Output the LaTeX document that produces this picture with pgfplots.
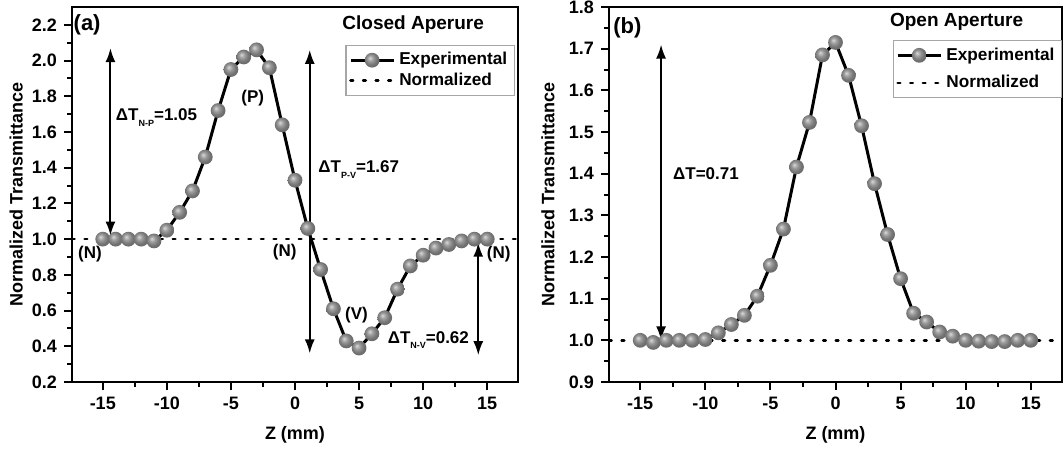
\documentclass[border=0pt]{standalone}
\usepackage{fontspec}
\setmainfont{Liberation Sans}
\usepackage{pgfplots}
\pgfplotsset{compat=1.18}
\usetikzlibrary{arrows.meta}

\newcommand\dT[1]{ΔT\raisebox{-0.6ex}{\fontsize{4.5}{5}\selectfont #1}}

% gray sphere marker
\pgfdeclareradialshading{sph}{\pgfqpoint{-8bp}{8bp}}{%
  color(0bp)=(gray!30); color(10bp)=(gray!78); color(20bp)=(gray!92!black);
  color(25bp)=(gray!85!black); color(50bp)=(gray!80!black)}
\pgfdeclareplotmark{sph}{%
  \pgfpathcircle{\pgfpointorigin}{\pgfplotmarksize}%
  \pgfshadepath{sph}{0}\pgfusepath{}}

% closed aperture (a)
\pgfplotstableread{
z T
-15 1.00
-14 1.00
-13 1.00
-12 1.00
-11 0.99
-10 1.05
-9 1.15
-8 1.27
-7 1.46
-6 1.72
-5 1.95
-4 2.02
-3 2.06
-2 1.96
-1 1.64
0 1.33
1 1.06
2 0.83
3 0.61
4 0.43
5 0.39
6 0.47
7 0.56
8 0.72
9 0.85
10 0.91
11 0.95
12 0.97
13 0.99
14 1.00
15 1.00
}\closedap

% open aperture (b)
\pgfplotstableread{
z T
-15 1.000
-14 0.995
-13 1.000
-12 1.000
-11 1.000
-10 1.002
-9 1.018
-8 1.038
-7 1.060
-6 1.106
-5 1.180
-4 1.267
-3 1.416
-2 1.523
-1 1.685
0 1.715
1 1.636
2 1.515
3 1.376
4 1.254
5 1.148
6 1.065
7 1.044
8 1.020
9 1.010
10 1.000
11 0.998
12 0.997
13 0.997
14 1.000
15 1.000
}\openap

\tikzset{darr/.style={{Latex[length=7pt,width=5pt]}-{Latex[length=7pt,width=5pt]}, line width=1pt}}

\pgfplotsset{
  zscan/.style={
    scale only axis,
    height=187.5pt,
    xmin=-17.4, xmax=17.4,
    xtick={-15,-10,...,15},
    minor x tick num=1, minor y tick num=1,
    tick align=outside, tick pos=left,
    axis line style={line width=1.2pt},
    major tick length=4pt, minor tick length=2.5pt,
    every tick/.style={black, line width=1pt},
    ticklabel style={font=\fontsize{9}{10}\selectfont\bfseries},
    /pgf/number format/assume math mode=true,
    yticklabel style={/pgf/number format/fixed, /pgf/number format/fixed zerofill, /pgf/number format/precision=1},
    xlabel={Z (mm)},
    ylabel={Normalized Transmittance},
    label style={font=\fontsize{9}{10}\selectfont\bfseries},
    xlabel style={at={(axis description cs:0.5,-0.14)}, anchor=center},
    clip=false,
    legend cell align=left,
    legend style={draw=gray!70, line width=0.6pt, font=\fontsize{8.6}{11}\selectfont\bfseries,
      inner sep=1.5pt, anchor=north east},
  },
  expt/.style={black, line width=1.5pt, mark=sph, mark size=3.7pt,
    legend image code/.code={\draw[##1, mark repeat=2, mark phase=2]
      plot coordinates {(0cm,0cm) (0.38cm,0cm) (0.76cm,0cm)};}},
  norm/.style={black, line width=1.3pt, dash pattern=on 1.3pt off 5pt, line cap=round,
    legend image code/.code={\draw[##1] (0cm,0cm) -- (0.76cm,0cm);}},
}

\begin{document}
\begin{tikzpicture}
\begin{axis}[zscan,
  at={(36pt,34pt)}, anchor=south west,
  width=223pt,
  ymin=0.2, ymax=2.3,
  ytick={0.2,0.4,...,2.21},
  ylabel style={at={(axis description cs:-0.125,0.5)}, anchor=center},
  legend style={at={(rel axis cs:0.993,0.899)}, row sep=-1.5pt},
]
\addplot[expt] table[x=z, y=T] {\closedap};
\addplot[norm] coordinates {(-17.4,1) (17.4,1)};
\legend{Experimental, Normalized}

\draw[darr] (axis cs:-14.4,1.02) -- (axis cs:-14.4,2.07);
\draw[darr] (axis cs:1.15,0.36) -- (axis cs:1.15,2.06);
\draw[darr] (axis cs:14.3,0.35) -- (axis cs:14.3,0.98);

\begin{scope}[every node/.style={font=\fontsize{8.5}{10}\selectfont\bfseries, inner sep=0pt}]
\node[anchor=west] at (axis cs:-14.0,1.68) {\dT{N-P}=1.05};
\node[anchor=west] at (axis cs:1.8,1.39) {\dT{P-V}=1.67};
\node[anchor=east] at (axis cs:13.6,0.435) {\dT{N-V}=0.62};
\node at (axis cs:-16.0,0.915) {(N)};
\node at (axis cs:-0.8,0.925) {(N)};
\node at (axis cs:15.9,0.915) {(N)};
\node at (axis cs:-3.3,1.79) {(P)};
\node at (axis cs:4.8,0.575) {(V)};
\node at (rel axis cs:0.765,0.953) {\fontsize{9.5}{10}\selectfont Closed Aperure};
\node[anchor=west] at (axis cs:-17.3,2.2) {\fontsize{11}{12}\selectfont (a)};
\end{scope}
\end{axis}

\begin{axis}[zscan,
  at={(304.5pt,34pt)}, anchor=south west,
  width=226.5pt,
  ymin=0.9, ymax=1.8,
  ytick={0.9,1.0,...,1.81},
  ylabel style={at={(axis description cs:-0.135,0.5)}, anchor=center},
  legend style={at={(rel axis cs:1.0,0.912)}, row sep=2pt},
]
\addplot[expt] table[x=z, y=T] {\openap};
\addplot[norm] coordinates {(-17.4,1) (17.4,1)};
\legend{Experimental, Normalized}

\draw[darr] (axis cs:-13.4,1.0) -- (axis cs:-13.4,1.71);

\begin{scope}[every node/.style={font=\fontsize{8.5}{10}\selectfont\bfseries, inner sep=0pt}]
\node[anchor=west] at (axis cs:-12.5,1.4) {ΔT=0.71};
\node at (axis cs:9.3,1.765) {\fontsize{9.5}{10}\selectfont Open Aperture};
\node[anchor=west] at (axis cs:-17.1,1.75) {\fontsize{11}{12}\selectfont (b)};
\end{scope}
\end{axis}
\pgfresetboundingbox
\useasboundingbox (0,0) rectangle (532pt,225pt);
\end{tikzpicture}
\end{document}
